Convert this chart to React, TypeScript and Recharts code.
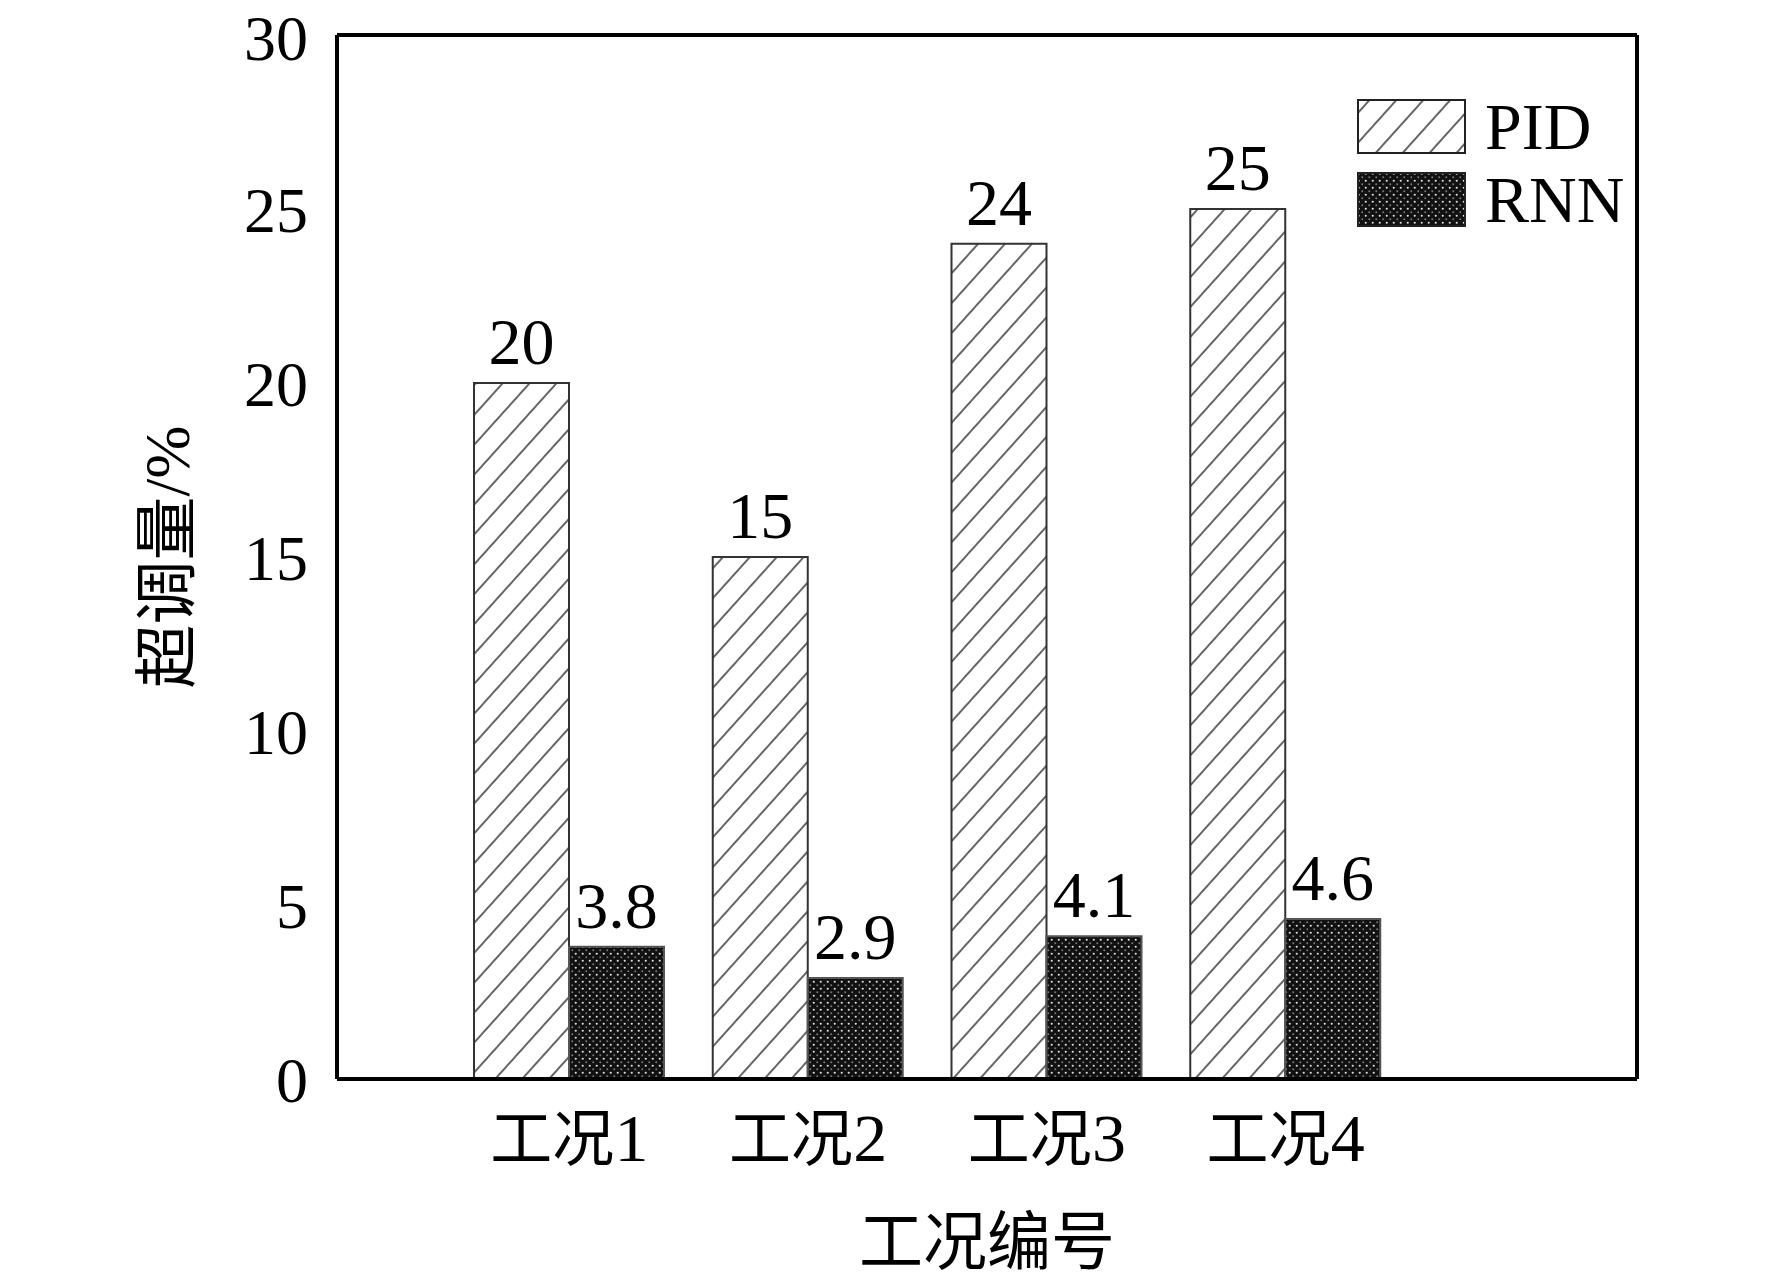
import React from "react";
import {
  BarChart,
  Bar,
  XAxis,
  YAxis,
  Legend,
  LabelList,
  CartesianGrid,
} from "recharts";

const categories = ["工况1", "工况2", "工况3", "工况4"];
const pidValues = [20, 15, 24, 25];
const rnnValues = [3.8, 2.9, 4.1, 4.6];
const yTicks = [0, 5, 10, 15, 20, 25, 30];

const data = categories.map((name, i) => ({
  name,
  PID: pidValues[i],
  RNN: rnnValues[i],
}));

const FONT = "'Liberation Serif', 'Times New Roman', 'Noto Sans CJK SC', serif";

// hatch + dotted fills, reused in chart and legend
function Patterns({ suffix = "" }: { suffix?: string }) {
  return (
    <defs>
      <pattern
        id={"hatch" + suffix}
        patternUnits="userSpaceOnUse"
        width={20}
        height={20}
        patternTransform="rotate(42)"
      >
        <rect width={20} height={20} fill="#fff" />
        <line x1={10} y1={0} x2={10} y2={20} stroke="#666" strokeWidth={2} />
      </pattern>
      <pattern
        id={"dots" + suffix}
        patternUnits="userSpaceOnUse"
        width={7}
        height={7}
      >
        <rect width={7} height={7} fill="#111" />
        <circle cx={1.75} cy={1.75} r={1.1} fill="#ddd" />
        <circle cx={5.25} cy={5.25} r={1} fill="#777" />
      </pattern>
    </defs>
  );
}

// "工况1" -> CJK part + slightly larger serif digit
function CategoryTick({ x, y, payload }: any) {
  const m = String(payload.value).match(/^(\D*)(\d*)$/) || ["", payload.value, ""];
  return (
    <text x={x} y={y} dy={44} textAnchor="middle" fill="#000" fontSize={62} fontFamily={FONT}>
      <tspan>{m[1]}</tspan>
      <tspan fontSize={68}>{m[2]}</tspan>
    </text>
  );
}

function LegendContent() {
  const rows = [
    { label: "PID", fill: "url(#hatchL)" },
    { label: "RNN", fill: "url(#dotsL)" },
  ];
  return (
    <div style={{ display: "flex", flexDirection: "column", gap: 18 }}>
      {rows.map((r) => (
        <div key={r.label} style={{ display: "flex", alignItems: "center", height: 55 }}>
          <svg width={109} height={55}>
            <Patterns suffix="L" />
            <rect x={1} y={1} width={107} height={53} fill={r.fill} stroke="#222" strokeWidth={2} />
          </svg>
          <span
            style={{
              marginLeft: 19,
              fontFamily: FONT,
              fontSize: 66,
              lineHeight: "55px",
              color: "#000",
            }}
          >
            {r.label}
          </span>
        </div>
      ))}
    </div>
  );
}

export default function App() {
  return (
    <div style={{ width: 1772, height: 1280, background: "#fff" }}>
      <style>{`body{margin:0;background:#fff}`}</style>
      <BarChart
        width={1772}
        height={1280}
        data={data}
        margin={{ top: 35, right: 135, bottom: 81, left: 137 }}
        barGap={0}
        barSize={95}
      >
        <Patterns />
        {/* top and right edges of the frame */}
        <CartesianGrid
          stroke="#000"
          strokeWidth={4}
          horizontalCoordinatesGenerator={({ offset }: any) => [offset.top]}
          verticalCoordinatesGenerator={({ offset }: any) => [offset.left + offset.width]}
        />
        <XAxis
          dataKey="name"
          height={120}
          padding={{ left: 113, right: 232 }}
          axisLine={{ stroke: "#000", strokeWidth: 4 }}
          tickLine={false}
          tickSize={0}
          tickMargin={38}
          tick={<CategoryTick />}
          label={{
            content: ({ viewBox }: any) => (
              <text
                x={viewBox.x + viewBox.width / 2}
                y={viewBox.y + 163}
                textAnchor="middle"
                dominantBaseline="central"
                fontSize={64}
                fontFamily={FONT}
                fill="#000"
              >
                工况编号
              </text>
            ),
          }}
        />
        <YAxis
          width={200}
          domain={[0, 30]}
          ticks={yTicks}
          axisLine={{ stroke: "#000", strokeWidth: 4 }}
          tickLine={false}
          tickSize={0}
          tickMargin={29}
          tick={{ fontSize: 64, fill: "#000", fontFamily: FONT }}
          label={{
            content: ({ viewBox }: any) => {
              const cx = viewBox.x + 30;
              const cy = viewBox.y + viewBox.height / 2;
              return (
                <text
                  x={cx}
                  y={cy}
                  transform={`rotate(-90, ${cx}, ${cy})`}
                  textAnchor="middle"
                  dominantBaseline="central"
                  fontSize={64}
                  fontFamily={FONT}
                  fill="#000"
                >
                  超调量/%
                </text>
              );
            },
          }}
        />
        <Legend
          layout="vertical"
          align="center"
          verticalAlign="middle"
          width={320}
          content={() => <LegendContent />}
          wrapperStyle={{ left: 1357, top: 99 }}
        />
        <Bar
          dataKey="PID"
          fill="url(#hatch)"
          stroke="#333"
          strokeWidth={2}
          isAnimationActive={false}
        >
          <LabelList
            dataKey="PID"
            position="top"
            offset={19}
            fill="#000"
            fontSize={66}
            fontFamily={FONT}
          />
        </Bar>
        <Bar
          dataKey="RNN"
          fill="url(#dots)"
          stroke="#555"
          strokeWidth={2}
          isAnimationActive={false}
        >
          <LabelList
            dataKey="RNN"
            position="top"
            offset={19}
            fill="#000"
            fontSize={66}
            fontFamily={FONT}
          />
        </Bar>
      </BarChart>
    </div>
  );
}
